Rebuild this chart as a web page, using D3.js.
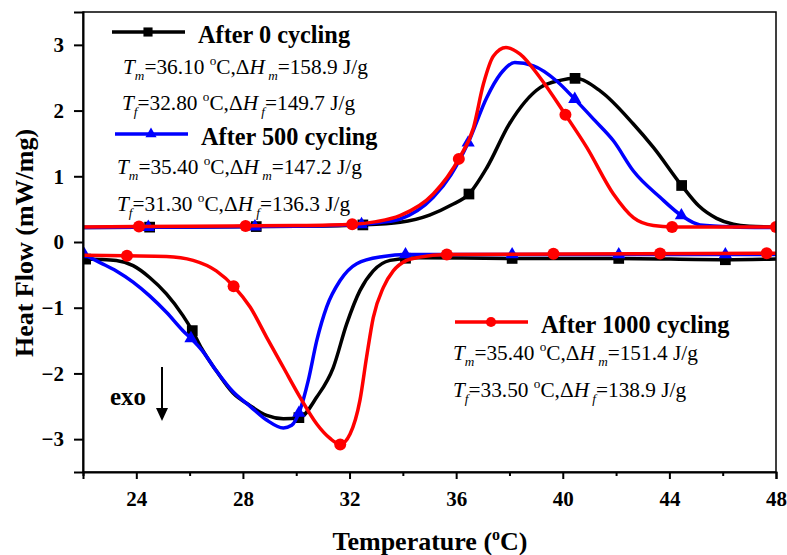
<!DOCTYPE html>
<meta charset="utf-8">
<script src="https://d3js.org/d3.v7.min.js"></script>
<style>
  body { margin: 0; background: #fff; }
  text { font-family: "Liberation Serif", "Times New Roman", serif; }
</style>
<div id="chart"></div>
<script>
// DSC curves: [temperature (oC), heat flow (mW/mg)]
var heat0 = [[22,0.22],[26,0.23],[30,0.24],[32.5,0.26],[33.9,0.30],[35.0,0.41],[35.8,0.56],[36.48,0.73],[37.15,1.13],[38.0,1.80],[39.15,2.35],[39.9,2.46],[40.46,2.49],[41.4,2.30],[42.64,1.80],[43.4,1.44],[44.46,0.86],[45.1,0.55],[45.77,0.36],[46.4,0.27],[47.0,0.24],[48,0.23]];
var cool0 = [[22,-0.26],[22.6,-0.265],[23.25,-0.28],[23.88,-0.36],[24.5,-0.54],[25.13,-0.79],[25.75,-1.12],[26.13,-1.37],[26.45,-1.62],[27.0,-1.96],[27.63,-2.30],[28.27,-2.49],[28.89,-2.64],[29.52,-2.69],[30.14,-2.67],[30.77,-2.36],[31.39,-1.91],[31.89,-1.25],[32.39,-0.74],[32.89,-0.44],[33.52,-0.28],[34.52,-0.24],[38,-0.25],[42,-0.25],[46.1,-0.27],[48,-0.26]];

var heat500 = [[22,0.22],[26,0.23],[30,0.24],[32.5,0.27],[33.2,0.30],[33.9,0.35],[35.14,0.68],[35.8,1.02],[36.45,1.51],[37.15,2.20],[37.65,2.55],[38.2,2.73],[38.9,2.68],[39.77,2.45],[40.46,2.17],[41.2,1.85],[41.9,1.54],[42.65,1.08],[43.65,0.68],[44.46,0.40],[45.15,0.26],[46.4,0.23],[48,0.22]];
var cool500 = [[22,-0.18],[22.62,-0.31],[23.25,-0.44],[23.88,-0.61],[24.5,-0.82],[25.13,-1.07],[25.75,-1.35],[26.13,-1.50],[26.45,-1.64],[27.0,-1.96],[27.63,-2.28],[28.27,-2.50],[28.89,-2.71],[29.52,-2.83],[29.83,-2.79],[30.14,-2.56],[30.45,-2.11],[30.77,-1.50],[31.14,-0.99],[31.64,-0.59],[32.27,-0.33],[33.27,-0.22],[34.14,-0.19],[48,-0.19]];

var heat1000 = [[22,0.23],[26,0.24],[30,0.25],[32.1,0.27],[33.0,0.31],[33.89,0.40],[35.14,0.73],[36.12,1.28],[36.65,1.74],[37.02,2.40],[37.4,2.83],[37.87,2.96],[38.4,2.86],[39.15,2.50],[40.11,1.93],[40.9,1.44],[41.9,0.73],[42.65,0.37],[43.4,0.25],[44.12,0.23],[48,0.23]];
var cool1000 = [[22,-0.20],[23.63,-0.21],[25.13,-0.22],[26.13,-0.28],[27.0,-0.44],[27.69,-0.69],[28.27,-0.99],[28.89,-1.45],[29.52,-1.91],[30.14,-2.36],[30.77,-2.77],[31.27,-2.99],[31.64,-3.08],[32.02,-2.92],[32.39,-2.41],[32.64,-1.75],[32.89,-1.15],[33.27,-0.69],[33.64,-0.44],[34.14,-0.28],[34.64,-0.23],[35.6,-0.19],[48,-0.17]];

// temperatures where the symbols sit
var mark0Heat = [24.5, 28.5, 32.5, 36.48, 40.46, 44.46];
var mark0Cool = [22.1, 26.1, 30.1, 34.1, 38.1, 42.1, 46.1];
var mark500Heat = [24.45, 28.45, 32.45, 36.45, 40.45, 44.45];
var mark500Cool = [22.05, 26.05, 30.1, 34.1, 38.1, 42.1, 46.1];
var mark1000Heat = [24.1, 28.1, 32.1, 36.1, 40.1, 44.1, 48];
var mark1000Cool = [23.65, 27.65, 31.65, 35.65, 39.65, 43.65, 47.65];

var xMajor = [24, 28, 32, 36, 40, 44, 48];
var xMinor = [22, 26, 30, 34, 38, 42, 46];
var yTicks = [-3, -2, -1, 0, 1, 2, 3];

var W = 787, H = 555;
var mLeft = 83, mRight = 776, mTop = 12, mBottom = 472;

var svg = d3.select("#chart").append("svg")
    .attr("width", W).attr("height", H);

var x = d3.scaleLinear().domain([22, 48]).range([mLeft, mRight]);
var y = d3.scaleLinear().domain([-3.5, 3.5]).range([mBottom, mTop]);

svg.append("clipPath").attr("id", "clip")
  .append("rect").attr("x", mLeft).attr("y", mTop)
  .attr("width", mRight - mLeft).attr("height", mBottom - mTop);

var line = d3.line()
    .x(function (d) { return x(d[0]); })
    .y(function (d) { return y(d[1]); })
    .curve(d3.curveMonotoneX);

var plot = svg.append("g").attr("clip-path", "url(#clip)");

var series = [
  { heat: heat0, cool: cool0, mh: mark0Heat, mc: mark0Cool, color: "#000000", sym: "square" },
  { heat: heat500, cool: cool500, mh: mark500Heat, mc: mark500Cool, color: "#0000ff", sym: "triangle" },
  { heat: heat1000, cool: cool1000, mh: mark1000Heat, mc: mark1000Cool, color: "#ff0000", sym: "circle" }
];

// find the y pixel of a drawn path at a given x pixel
function yOnPath(node, px) {
  var lo = 0, hi = node.getTotalLength();
  for (var i = 0; i < 40; i++) {
    var mid = (lo + hi) / 2;
    if (node.getPointAtLength(mid).x < px) lo = mid; else hi = mid;
  }
  return node.getPointAtLength(hi).y;
}

function drawSymbol(g, kind, cx, cy, color, scale) {
  scale = scale || 1;
  if (kind === "circle") {
    g.append("circle").attr("cx", cx).attr("cy", cy).attr("r", 6 * scale).attr("fill", color);
  } else {
    var s = kind === "square" ? d3.symbolSquare : d3.symbolTriangle;
    var size = kind === "square" ? 115 : 75;
    g.append("path")
      .attr("d", d3.symbol().type(s).size(size * scale * scale)())
      .attr("transform", "translate(" + cx + "," + cy + ")")
      .attr("fill", color);
  }
}

series.forEach(function (s) {
  [[s.heat, s.mh], [s.cool, s.mc]].forEach(function (pair) {
    var p = plot.append("path")
      .datum(pair[0])
      .attr("d", line)
      .attr("fill", "none")
      .attr("stroke", s.color)
      .attr("stroke-width", 3.5)
      .attr("stroke-linejoin", "round");
    var node = p.node();
    pair[1].forEach(function (t) {
      var px = Math.min(x(t), mRight - 0.01);
      drawSymbol(plot, s.sym, x(t), yOnPath(node, px), s.color);
    });
  });
});

// frame
svg.append("rect")
  .attr("x", mLeft).attr("y", mTop)
  .attr("width", mRight - mLeft).attr("height", mBottom - mTop)
  .attr("fill", "none").attr("stroke", "#000").attr("stroke-width", 1.5);

// axes
svg.append("g")
  .attr("transform", "translate(0," + mBottom + ")")
  .call(d3.axisBottom(x).tickValues(xMajor).tickSize(7).tickPadding(12).tickFormat(d3.format("d")));
svg.append("g")
  .attr("transform", "translate(0," + mBottom + ")")
  .call(d3.axisBottom(x).tickValues(xMinor).tickSize(4).tickFormat(""))
  .select(".domain").remove();

svg.append("g")
  .attr("transform", "translate(" + mLeft + ",0)")
  .call(d3.axisLeft(y).tickValues(yTicks).tickSize(9).tickPadding(10).tickFormat(d3.format("d")));

svg.selectAll(".tick line").attr("stroke-width", 2);
svg.selectAll(".domain").attr("stroke-width", 2);
svg.selectAll(".tick text")
  .attr("font-family", "'Liberation Serif', 'Times New Roman', serif")
  .attr("font-size", 21).attr("font-weight", "bold").attr("fill", "#000");

// axis titles
svg.append("text")
  .attr("transform", "translate(33,243) rotate(-90)")
  .attr("text-anchor", "middle")
  .attr("font-size", 26).attr("font-weight", "bold")
  .text("Heat Flow (mW/mg)");

var xt = svg.append("text")
  .attr("x", 430).attr("y", 550)
  .attr("text-anchor", "middle")
  .attr("font-size", 26).attr("font-weight", "bold");
xt.append("tspan").text("Temperature (");
xt.append("tspan").attr("font-size", 16).attr("dy", -10).text("o");
xt.append("tspan").attr("dy", 10).text("C)");

// rich text helper: parts = [text, kind]
function rich(px, py, parts, size) {
  var t = svg.append("text").attr("x", px).attr("y", py).attr("font-size", size);
  var off = 0;
  parts.forEach(function (p) {
    var sp = t.append("tspan").text(p[0]);
    var target = 0;
    if (p[1] === "i") sp.attr("font-style", "italic");
    if (p[1] === "sub") { sp.attr("font-style", "italic").attr("font-size", size * 0.62); target = size * 0.28; }
    if (p[1] === "sup") { sp.attr("font-size", size * 0.62); target = -size * 0.42; }
    sp.attr("dy", target - off);
    off = target;
  });
  return t;
}

function annot(px, py, letter, temp, dh) {
  rich(px, py, [["T", "i"], [letter, "sub"], ["=" + temp + " ", ""], ["o", "sup"],
    ["C,\u0394", ""], ["H", "i"], [" " + letter, "sub"], ["=" + dh + " J/g", ""]], 21.3);
}

// legend blocks
function legendEntry(lx, ly, color, sym, label) {
  svg.append("line").attr("x1", lx).attr("x2", lx + 73).attr("y1", ly).attr("y2", ly)
    .attr("stroke", color).attr("stroke-width", 3.5);
  drawSymbol(svg, sym, lx + 36, ly, color, 0.85);
  svg.append("text").attr("x", lx + 86).attr("y", ly + 11)
    .attr("font-size", 24.3).attr("font-weight", "bold").text(label);
}

legendEntry(112, 32, "#000000", "square", "After 0 cycling");
annot(123, 74, "m", "36.10", "158.9");
annot(122, 110, "f", "32.80", "149.7");

legendEntry(115, 134, "#0000ff", "triangle", "After 500 cycling");
annot(117, 174, "m", "35.40", "147.2");
annot(117, 211, "f", "31.30", "136.3");

legendEntry(455, 322, "#ff0000", "circle", "After 1000 cycling");
annot(453, 360, "m", "35.40", "151.4");
annot(453, 397, "f", "33.50", "138.9");

// exo arrow
svg.append("text").attr("x", 110).attr("y", 405)
  .attr("font-size", 25).attr("font-weight", "bold").text("exo");
svg.append("line").attr("x1", 162).attr("x2", 162).attr("y1", 367).attr("y2", 410)
  .attr("stroke", "#000").attr("stroke-width", 2);
svg.append("path").attr("d", "M156,408 L168,408 L162,421 Z").attr("fill", "#000");
</script>
